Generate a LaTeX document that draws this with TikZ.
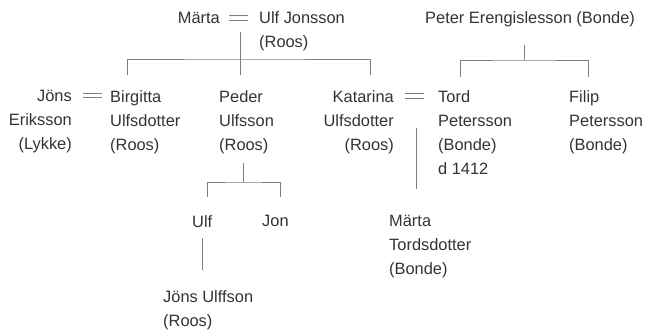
\documentclass[tikz,border=0pt]{standalone}
\usepackage{fontspec}
\setmainfont{Liberation Sans}
\begin{document}
\begin{tikzpicture}[x=1pt, y=-1pt,
    person/.style={font=\fontsize{16.4}{24}\selectfont, text=black!80, inner sep=0pt},
    lperson/.style={person, align=left, anchor=north west},
    rperson/.style={person, align=right, anchor=north east},
    line/.style={draw=black!50, line width=0.9pt}]
    \useasboundingbox (0,0) rectangle (645,331);
    % first generation
    \node[rperson] (marta) at (220,11.6) {Märta};
    \node[lperson] (ulf) at (259,11.6) {Ulf Jonsson\\(Roos)};
    \node[lperson] (peter) at (425,11.6) {Peter Erengislesson (Bonde)};
    % second generation
    \node[rperson] (jons) at (72,90.2) {Jöns\\Eriksson\\(Lykke)};
    \node[lperson] (birgitta) at (110,90.2) {Birgitta\\Ulfsdotter\\(Roos)};
    \node[lperson] (peder) at (219,90.2) {Peder\\Ulfsson\\(Roos)};
    \node[rperson] (katarina) at (394,90.2) {Katarina\\Ulfsdotter\\(Roos)};
    \node[lperson] (tord) at (438,90.2) {Tord\\Petersson\\(Bonde)\\d 1412};
    \node[lperson] (filip) at (569,90.2) {Filip\\Petersson\\(Bonde)};
    % third generation
    \node[lperson] (ulfp) at (192,215.2) {Ulf};
    \node[lperson] (jon) at (262,215.2) {Jon};
    \node[lperson] (martat) at (389,215.2) {Märta\\Tordsdotter\\(Bonde)};
    \node[lperson] (jonsu) at (163,290.2) {Jöns Ulffson\\(Roos)};
    % marriages
    \coordinate (w1) at (238.6,18.3);
    \coordinate (w2) at (92.5,95.5);
    \coordinate (w3) at (414.5,95.8);
    \foreach \w in {w1,w2,w3}
        \draw[line] (\w) +(-9.5,-2.4) -- +(9.5,-2.4) +(-9.5,2.4) -- +(9.5,2.4);
    % descent lines
    \coordinate (mu) at (240.7,32);
    \coordinate (bar1) at (240.7,59);
    \coordinate (c1) at (127,75);
    \coordinate (c2) at (240.7,75);
    \coordinate (c3) at (370,75);
    \draw[line] (mu) -- (c2);
    \draw[line] (c1) |- (bar1) -| (c3);
    \coordinate (pe) at (524,45);
    \coordinate (bar2) at (524,60);
    \coordinate (c4) at (460,77);
    \coordinate (c5) at (588,77);
    \draw[line] (pe) -- (bar2);
    \draw[line] (c4) |- (bar2) -| (c5);
    \coordinate (pd) at (243,163);
    \coordinate (bar3) at (243,182);
    \coordinate (c6) at (207,197);
    \coordinate (c7) at (280,197);
    \draw[line] (pd) -- (bar3);
    \draw[line] (c6) |- (bar3) -| (c7);
    \coordinate (u1) at (202,238);
    \coordinate (u2) at (202,270);
    \draw[line] (u1) -- (u2);
    \coordinate (kt1) at (416,128);
    \coordinate (kt2) at (416,189);
    \draw[line] (kt1) -- (kt2);
\end{tikzpicture}
\end{document}
